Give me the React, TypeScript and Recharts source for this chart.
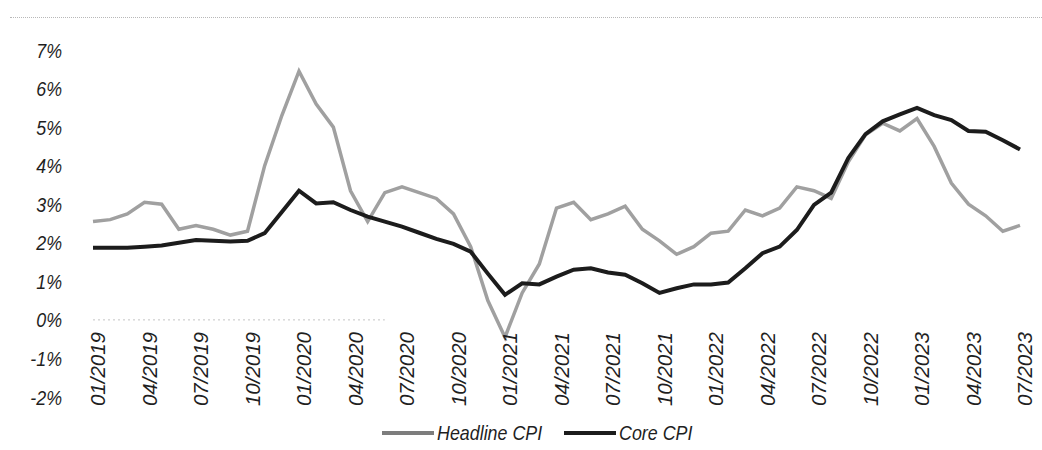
import { Legend, Line, LineChart, ReferenceLine, XAxis, YAxis } from "recharts";

const months = [
  "01/2019", "02/2019", "03/2019", "04/2019", "05/2019", "06/2019",
  "07/2019", "08/2019", "09/2019", "10/2019", "11/2019", "12/2019",
  "01/2020", "02/2020", "03/2020", "04/2020", "05/2020", "06/2020",
  "07/2020", "08/2020", "09/2020", "10/2020", "11/2020", "12/2020",
  "01/2021", "02/2021", "03/2021", "04/2021", "05/2021", "06/2021",
  "07/2021", "08/2021", "09/2021", "10/2021", "11/2021", "12/2021",
  "01/2022", "02/2022", "03/2022", "04/2022", "05/2022", "06/2022",
  "07/2022", "08/2022", "09/2022", "10/2022", "11/2022", "12/2022",
  "01/2023", "02/2023", "03/2023", "04/2023", "05/2023", "06/2023",
  "07/2023",
];

const headlineCpi = [
  2.55, 2.6, 2.75, 3.05, 3.0, 2.35, 2.45, 2.35, 2.2, 2.3, 4.0, 5.3,
  6.45, 5.6, 5.0, 3.35, 2.55, 3.3, 3.45, 3.3, 3.15, 2.75, 1.9, 0.5,
  -0.45, 0.7, 1.45, 2.9, 3.05, 2.6, 2.75, 2.95, 2.35, 2.05, 1.7, 1.9,
  2.25, 2.3, 2.85, 2.7, 2.9, 3.45, 3.35, 3.15, 4.1, 4.8, 5.1, 4.9,
  5.22, 4.5, 3.55, 3.0, 2.7, 2.3, 2.45,
];

const coreCpi = [
  1.87, 1.87, 1.87, 1.9, 1.93, 2.0, 2.07, 2.05, 2.03, 2.05, 2.25, 2.8,
  3.35, 3.02, 3.05, 2.85, 2.68, 2.55, 2.42, 2.26, 2.1, 1.97, 1.77, 1.2,
  0.65, 0.95, 0.92, 1.12, 1.3, 1.34, 1.23, 1.17, 0.95, 0.7, 0.82, 0.92,
  0.92, 0.97, 1.34, 1.73, 1.9, 2.33, 2.98, 3.3, 4.2, 4.82, 5.15, 5.33,
  5.5, 5.31, 5.18, 4.9, 4.88, 4.66, 4.42,
];

const xTickLabels = [
  "01/2019", "04/2019", "07/2019", "10/2019", "01/2020", "04/2020",
  "07/2020", "10/2020", "01/2021", "04/2021", "07/2021", "10/2021",
  "01/2022", "04/2022", "07/2022", "10/2022", "01/2023", "04/2023",
  "07/2023",
];

const yTicks = [-2, -1, 0, 1, 2, 3, 4, 5, 6, 7];

const data = months.map((month, i) => ({
  month,
  headline: headlineCpi[i],
  core: coreCpi[i],
}));

const HEADLINE_COLOR = "#a0a0a0";
const CORE_COLOR = "#1c1c1c";
const TEXT_COLOR = "#1f1f1f";
const font = '"Liberation Sans", Arial, sans-serif';
// the scan is squeezed sideways, so horizontal text gets a narrower scale
const SQUEEZE = 0.85;

function XTick({ x, y, payload }: any) {
  return (
    <g transform={`translate(${x + 5},${y - 73})`}>
      <text
        transform="rotate(-90)"
        textAnchor="end"
        dy="0.36em"
        fill={TEXT_COLOR}
        fontFamily={font}
        fontStyle="italic"
        fontSize={20.5}
      >
        {payload.value}
      </text>
    </g>
  );
}

function YTick({ x, y, payload }: any) {
  return (
    <g transform={`translate(${x - 23},${y}) scale(${SQUEEZE},1)`}>
      <text
        dy="0.36em"
        textAnchor="end"
        fill={TEXT_COLOR}
        fontFamily={font}
        fontStyle="italic"
        fontSize={21}
      >
        {`${payload.value}%`}
      </text>
    </g>
  );
}

function LegendContent() {
  const items = [
    { label: "Headline CPI", color: "#7d7d7d", em: 5.891 },
    { label: "Core CPI", color: CORE_COLOR, em: 4.112 },
  ];
  return (
    <div style={{ display: "flex", justifyContent: "center", alignItems: "center", gap: 22 }}>
      {items.map((item) => (
        <div key={item.label} style={{ display: "flex", alignItems: "center", gap: 3 }}>
          <span style={{ width: 52, height: 4, background: item.color, display: "inline-block" }} />
          <span
            style={{
              display: "inline-block",
              fontFamily: font,
              fontStyle: "italic",
              fontSize: 21,
              color: TEXT_COLOR,
              lineHeight: "30px",
              whiteSpace: "nowrap",
              transform: `scaleX(${SQUEEZE})`,
              transformOrigin: "left center",
              marginRight: -item.em * 21 * (1 - SQUEEZE),
            }}
          >
            {item.label}
          </span>
        </div>
      ))}
    </div>
  );
}

export default function App() {
  return (
    <div style={{ position: "relative", width: 1042, height: 450, background: "#fff" }}>
      <style>{`body{margin:0;background:#fff}`}</style>
      <div
        style={{
          position: "absolute",
          top: 17,
          left: 10,
          right: 0,
          borderTop: "1px dotted #b8b8b8",
        }}
      />
      <LineChart
        width={1042}
        height={450}
        data={data}
        margin={{ top: 50, right: 22, bottom: 3, left: 0 }}
      >
        <XAxis
          dataKey="month"
          ticks={xTickLabels}
          interval={0}
          height={20}
          axisLine={false}
          tickLine={false}
          tick={<XTick />}
        />
        <YAxis
          width={93}
          domain={[-2, 7]}
          ticks={yTicks}
          axisLine={false}
          tickLine={false}
          tick={<YTick />}
        />
        <ReferenceLine
          stroke="#c4c4c4"
          strokeDasharray="2 3"
          ifOverflow="visible"
          segment={[
            { x: "01/2019", y: 0 },
            { x: "06/2020", y: 0 },
          ]}
        />
        <Legend
          verticalAlign="bottom"
          height={30}
          wrapperStyle={{ bottom: 2, left: 27 }}
          content={<LegendContent />}
        />
        <Line
          type="linear"
          dataKey="headline"
          name="Headline CPI"
          stroke={HEADLINE_COLOR}
          strokeWidth={3.5}
          dot={false}
          isAnimationActive={false}
        />
        <Line
          type="linear"
          dataKey="core"
          name="Core CPI"
          stroke={CORE_COLOR}
          strokeWidth={4}
          dot={false}
          isAnimationActive={false}
        />
      </LineChart>
    </div>
  );
}
